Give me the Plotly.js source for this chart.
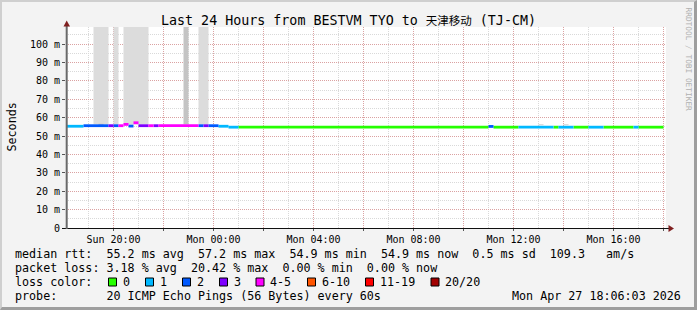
<!DOCTYPE html>
<html><head><meta charset="utf-8">
<script src="https://cdn.plot.ly/plotly-3.0.1.min.js"></script>
<style>
html,body{margin:0;padding:0;background:#f3f3f3;}
#wrap{position:relative;width:697px;height:310px;overflow:hidden;}
#chart{position:absolute;left:0;top:0;width:697px;height:310px;}
#frame{position:absolute;left:0;top:0;width:697px;height:310px;box-sizing:border-box;border-style:solid;border-width:2px 3px 3px 2px;border-color:#cfcfcf #9e9e9e #9e9e9e #cfcfcf;pointer-events:none;}
</style></head><body>
<div id="wrap"><div id="chart"></div><div id="frame"></div></div>
<script>
// ---------- data ----------
const lossLabels = ['0','1','2','3','4-5','6-10','11-19','20/20'];
const lossColors = ['#26ff00','#00b8ff','#0059ff','#7e00ff','#ff00ff','#ff5500','#ff0000','#a10000'];

// median rtt segments (start times, ms, loss class index)
const segStart = ['2026-04-26 18:00','2026-04-26 18:48','2026-04-26 19:48','2026-04-26 20:00','2026-04-26 20:12',
  '2026-04-26 20:24','2026-04-26 20:36','2026-04-26 20:48','2026-04-26 21:00','2026-04-26 21:24','2026-04-26 21:36',
  '2026-04-26 21:48','2026-04-26 23:24','2026-04-26 23:36','2026-04-26 23:48','2026-04-27 00:12','2026-04-27 00:36',
  '2026-04-27 01:00','2026-04-27 11:00','2026-04-27 11:12','2026-04-27 12:12','2026-04-27 13:36','2026-04-27 13:48',
  '2026-04-27 14:24','2026-04-27 15:00','2026-04-27 15:36','2026-04-27 16:48','2026-04-27 17:00'];
const lastSampleEnd = '2026-04-27 18:00';
const segMedian = [55.3,55.6,55.6,55.6,55.6,56.3,55.4,57.2,55.6,55.6,55.6,55.6,55.6,55.6,55.6,55.3,54.8,
  54.8,55.2,54.8,54.8,54.8,54.8,54.8,54.8,54.8,54.8,54.8];
const segLoss = [1,2,3,2,4,4,2,4,3,4,3,4,2,3,2,1,1,0,2,0,1,0,1,0,1,0,1,0];

// smoke (rtt spread) bands
const smokeStart = ['2026-04-26 19:12','2026-04-26 20:00','2026-04-26 20:24','2026-04-26 23:24','2026-04-26 22:48',
  '2026-04-26 19:24','2026-04-27 13:00','2026-04-27 14:00'];
const smokeEnd = ['2026-04-26 19:48','2026-04-26 20:12','2026-04-26 21:24','2026-04-26 23:48','2026-04-26 23:00',
  '2026-04-26 19:36','2026-04-27 13:12','2026-04-27 14:12'];
const smokeLow = [56.2,56.2,56.2,56.2,56.2,55.9,55.9,55.9];
const smokeHigh = [150,150,150,150,150,56.7,56.5,56.5];
const smokeShade = [0,0,0,0,1,1,0,0];
const smokeColors = ['#dcdcdc','#c4c4c4'];

const yTickVals = [0,10,20,30,40,50,60,70,80,90,100];
const yTickText = ['0','10 m','20 m','30 m','40 m','50 m','60 m','70 m','80 m','90 m','100 m'];
const xTickVals = ['2026-04-26 20:00','2026-04-26 22:00','2026-04-27 00:00','2026-04-27 02:00','2026-04-27 04:00',
  '2026-04-27 06:00','2026-04-27 08:00','2026-04-27 10:00','2026-04-27 12:00','2026-04-27 14:00','2026-04-27 16:00','2026-04-27 18:00'];
const xTickText = ['Sun 20:00','','Mon 00:00','','Mon 04:00','','Mon 08:00','','Mon 12:00','','Mon 16:00',''];

const titleText = 'Last 24 Hours from BESTVM TYO to <span style="font-size:11.5px">天津移动</span> (TJ-CM)';
const rttLine = 'median rtt:  55.2 ms avg  57.2 ms max  54.9 ms min  54.9 ms now  0.5 ms sd  109.3   am/s';
const lossLine = 'packet loss: 3.18 % avg  20.42 % max  0.00 % min  0.00 % now';
const probeLine = 'probe:       20 ICMP Echo Pings (56 Bytes) every 60s';
const stampLine = 'Mon Apr 27 18:06:03 2026';

// ---------- geometry ----------
const L=66, R=666, T=27, B=228;
const fx = px => (px-L)/(R-L);
const fy = py => (B-py)/(B-T);
const MONO = 'DejaVu Sans Mono, Noto Sans CJK SC, monospace';
const nb = s => s.replace(/ /g,'\u00a0');

// ---------- traces ----------
const traces = [];
[0,1].forEach(sh => {
  const x=[], y=[];
  smokeStart.forEach((s,i) => {
    if (smokeShade[i]!==sh) return;
    x.push(s, smokeEnd[i], smokeEnd[i], s, s, null);
    y.push(smokeLow[i], smokeLow[i], smokeHigh[i], smokeHigh[i], smokeLow[i], null);
  });
  traces.push({type:'scatter', mode:'lines', x, y, fill:'toself', fillcolor:smokeColors[sh],
    line:{width:0, color:smokeColors[sh]}, hoverinfo:'skip', showlegend:false});
});
lossColors.forEach((c,k) => {
  const x=[], y=[];
  segStart.forEach((s,i) => {
    if (segLoss[i]!==k) return;
    const e = i+1<segStart.length ? segStart[i+1] : lastSampleEnd;
    x.push(s, e, null); y.push(segMedian[i], segMedian[i], null);
  });
  if (x.length) traces.push({type:'scatter', mode:'lines', x, y, line:{color:c, width:2.8}, connectgaps:false,
    hoverinfo:'skip', showlegend:false, name:lossLabels[k]});
});

// ---------- decorations ----------
const shapes = [
  {type:'line', xref:'paper', yref:'paper', x0:fx(62), x1:fx(669), y0:fy(228.5), y1:fy(228.5), line:{color:'#101010', width:1}},
  {type:'line', xref:'paper', yref:'paper', x0:fx(66.7), x1:fx(66.7), y0:fy(229), y1:fy(25), line:{color:'#6a6a6a', width:2}},
  {type:'path', xref:'paper', yref:'paper', fillcolor:'#7f1f1f', line:{width:0},
    path:`M ${fx(63.5)} ${fy(26.5)} L ${fx(70)} ${fy(26.5)} L ${fx(66.7)} ${fy(20.5)} Z`},
  {type:'path', xref:'paper', yref:'paper', fillcolor:'#7f1f1f', line:{width:0},
    path:`M ${fx(668.5)} ${fy(225)} L ${fx(668.5)} ${fy(232)} L ${fx(674)} ${fy(228.5)} Z`}
];
const sqX = [108.5,145.5,182.5,219.5,256,307.5,365.5,431];
const annotations = [];
function txt(text, px, py, o){
  return Object.assign({text:nb(text), xref:'paper', yref:'paper', x:fx(px), y:fy(py), xanchor:'left', yanchor:'middle',
    showarrow:false, borderpad:0, borderwidth:0, font:{family:MONO, size:11.7, color:'#000'}}, o||{});
}
sqX.forEach((sx,k) => {
  shapes.push({type:'rect', xref:'paper', yref:'paper', x0:fx(sx), x1:fx(sx+8), y0:fy(286), y1:fy(278),
    fillcolor:lossColors[k], line:{color:'#000', width:1}});
  annotations.push(txt(lossLabels[k], sx+14, 282));
});
annotations.push(txt(rttLine, 15, 254));
annotations.push(txt(lossLine, 15, 268));
annotations.push(txt('loss color:', 15, 282));
annotations.push(txt(probeLine, 15, 296));
annotations.push(txt(stampLine, 681, 296, {xanchor:'right'}));
annotations.push(txt('Seconds', 11, 127.5, {xanchor:'center', textangle:-90}));
annotations.push(txt('RRDTOOL / TOBI OETIKER', 688.5, 59, {xanchor:'center', textangle:90, font:{family:MONO, size:7.8, color:'#b0b0b0'}}));

const layout = {
  width:697, height:310,
  margin:{l:L, r:697-R, t:T, b:310-B, pad:0},
  paper_bgcolor:'#f3f3f3', plot_bgcolor:'#ffffff',
  showlegend:false,
  title:{text:titleText, x:0.5, xref:'container', xanchor:'center', y:1-20.7/310, yref:'container', yanchor:'middle',
    font:{family:MONO, size:13.33, color:'#000'}},
  xaxis:{type:'date', range:['2026-04-26 18:06','2026-04-27 18:06'], tickmode:'array', tickvals:xTickVals, ticktext:xTickText,
    showgrid:true, gridcolor:'rgba(222,80,80,0.4)', griddash:'1px,1px', gridwidth:1, zeroline:false, showline:false,
    ticks:'outside', ticklen:2, tickcolor:'#555', tickfont:{family:MONO, size:10, color:'#000'}, tickangle:0,
    minor:{tickmode:'linear', dtick:3600000, tick0:'2026-04-26 00:00', showgrid:true, gridcolor:'#d9d9d9', griddash:'1px,1px', ticks:''},
    fixedrange:true},
  yaxis:{range:[0,109.24], tickmode:'array', tickvals:yTickVals, ticktext:yTickText,
    showgrid:true, gridcolor:'rgba(222,80,80,0.4)', griddash:'1px,1px', gridwidth:1, zeroline:false, showline:false,
    ticks:'outside', ticklen:3, tickcolor:'#555', tickfont:{family:MONO, size:10, color:'#000'},
    minor:{tickmode:'linear', dtick:5, tick0:0, showgrid:true, gridcolor:'#d9d9d9', griddash:'1px,1px', ticks:''},
    fixedrange:true},
  shapes, annotations
};
Plotly.newPlot('chart', traces, layout, {staticPlot:true, displayModeBar:false});
</script>
</body></html>
